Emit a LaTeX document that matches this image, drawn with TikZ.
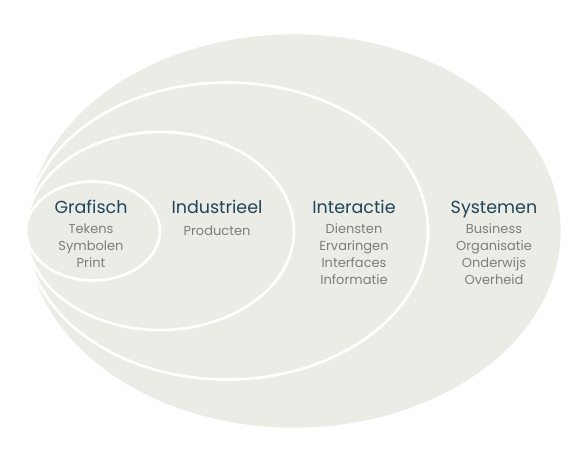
\documentclass[tikz,border=0pt]{standalone}
\usepackage{fontspec}
\setmainfont{Poppins}[Ligatures=NoCommon]
\usetikzlibrary{positioning}
\definecolor{schilvlak}{RGB}{236,236,231}
\definecolor{titelkleur}{RGB}{30,70,88}
\definecolor{itemkleur}{RGB}{125,125,122}

\begin{document}
\begin{tikzpicture}[
    x=1pt, y=-1pt,
    schil/.style={draw=white, line width=2.6pt, fill=schilvlak},
    titel/.style={font=\fontsize{17.5}{22}\selectfont, text=titelkleur, inner sep=0pt, anchor=base},
    items/.style={font=\fontsize{13}{17}\selectfont, text=itemkleur, align=center, inner sep=0pt,
        execute at begin node=\strut},
    node distance=10.5pt
]
    \useasboundingbox (0,0) rectangle (588,458);

    % Schillen: grootste eerst
    \foreach \k in {4,3,2,1}
        \draw[schil] (26+67*\k, 231) ellipse ({67*\k} and {49.5*\k});

    % Grafisch
    \node[titel] (grafisch) at (91,213) {Grafisch};
    \node[items, below=of grafisch.base] (grafischitems) {Tekens\\Symbolen\\Print};

    % Industrieel
    \node[titel] (industrieel) at (217,213) {Industrieel};
    \node[items, below=of industrieel.base] (industrieelitems) {Producten};

    % Interactie
    \node[titel] (interactie) at (354,213) {Interactie};
    \node[items, below=of interactie.base] (interactieitems) {Diensten\\Ervaringen\\Interfaces\\Informatie};

    % Systemen
    \node[titel] (systemen) at (494,213) {Systemen};
    \node[items, below=of systemen.base] (systemenitems) {Business\\Organisatie\\Onderwijs\\Overheid};

\end{tikzpicture}
\end{document}
